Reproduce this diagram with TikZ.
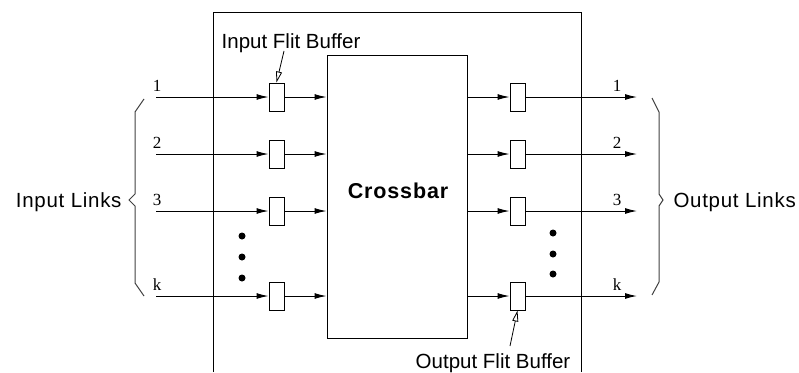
\documentclass[tikz,border=0pt]{standalone}
\usepackage{fontspec}
\setmainfont{Liberation Sans}
\newfontfamily\numfont{Liberation Serif}
\newfontfamily\spacedfont[LetterSpace=3.5]{Liberation Sans}
\newfontfamily\boldspaced[LetterSpace=4]{Liberation Sans Bold}
\usetikzlibrary{arrows.meta}
\begin{document}
\begin{tikzpicture}[x=1pt,y=-1pt,
  line width=1pt,
  buf/.style={draw, minimum width=15pt, minimum height=28pt, inner sep=0pt},
  lbl/.style={font=\fontsize{20.5}{24}\selectfont, inner sep=0pt},
  slbl/.style={font=\spacedfont\fontsize{20.5}{24}\selectfont, inner sep=0pt},
  num/.style={font=\numfont\fontsize{17}{20}\selectfont, inner sep=0pt},
  flow/.style={-{Latex[length=12pt,width=6pt]}},
  lead/.style={-{Triangle[open,length=11pt,width=6pt]}, line width=0.8pt},
  dot/.style={circle, fill, inner sep=0pt, minimum size=7pt},
  brace/.style={line width=1pt, draw=black!75}
]
\useasboundingbox (0,0) rectangle (799,372);
% outer router frame
\draw (213,372) -- (213,12) -- (581,12) -- (581,372);
% crossbar
\node[draw, minimum width=140pt, minimum height=283pt, inner sep=0pt] (xbar) at (397,196.5) {};
\node[font=\boldspaced\fontsize{21.5}{24}\selectfont, inner sep=0pt] (xbarlbl) at (398,191) {Crossbar};
% rows
\foreach \i/\y/\t in {1/97/1, 2/154/2, 3/211/3, 4/296/k}{
  \coordinate (in\i) at (156,\y);
  \node[buf] (ib\i) at (276.5,\y) {};
  \node[buf] (ob\i) at (517.5,\y) {};
  \coordinate (out\i) at (637,\y);
  \draw[flow] (in\i) -- (ib\i.west);
  \draw[flow] (ib\i.east) -- (ib\i.east -| xbar.west);
  \draw[flow] (ob\i.west -| xbar.east) -- (ob\i.west);
  \draw[flow] (ob\i.east) -- (out\i);
  \node[num] (inl\i) at (157,\y-11) {\t};
  \node[num] (outl\i) at (617,\y-11) {\t};
}
% dots
\node[dot] (ld1) at (242,236) {};
\node[dot] (ld2) at (242,257) {};
\node[dot] (ld3) at (242,278) {};
\node[dot] (rd1) at (553,233) {};
\node[dot] (rd2) at (553,254) {};
\node[dot] (rd3) at (553,274) {};
% braces
\draw[brace] (144,99) -- (135,112) -- (135,194) -- (129,200) -- (135,206) -- (135,283) -- (144,296);
\draw[brace] (652,98) -- (659,112) -- (659,194) -- (663,200) -- (659,206) -- (659,282) -- (652,295);
% labels
\node[slbl, anchor=east] (inlinks) at (122,202) {Input Links};
\node[slbl, anchor=west] (outlinks) at (673,202) {Output Links};
\node[lbl] (ifb) at (291,43) {Input Flit Buffer};
\node[lbl] (ofb) at (493,363) {Output Flit Buffer};
\coordinate (ifbtail) at (284,51);
\coordinate (ofbtail) at (510,346);
\draw[lead] (ifbtail) -- (ib1.north);
\draw[lead] (ofbtail) -- (ob4.south);
\end{tikzpicture}
\end{document}
